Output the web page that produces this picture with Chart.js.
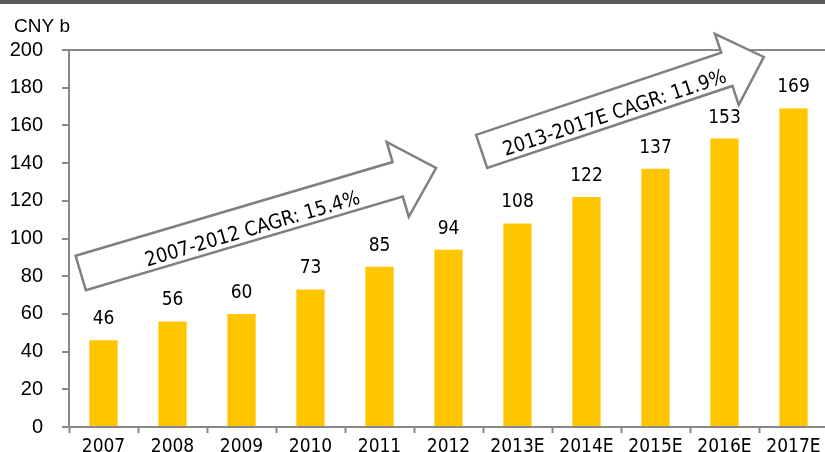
<!DOCTYPE html>
<html>
<head>
<meta charset="utf-8">
<script src="https://cdn.jsdelivr.net/npm/chart.js@4"></script>
<style>
  html, body { margin: 0; padding: 0; overflow: hidden; background: #fff; }
  #topbar { position: absolute; left: 0; top: 0; width: 825px; height: 4px; background: #595959; z-index: 2; }
  #wrap { position: absolute; left: 0; top: 0; width: 828px; height: 452px; }
</style>
</head>
<body>
<div id="topbar"></div>
<div id="wrap"><canvas id="chart" width="828" height="452"></canvas></div>
<script>
const years = ["2007", "2008", "2009", "2010", "2011", "2012", "2013E", "2014E", "2015E", "2016E", "2017E"];
const revenue = [46, 56, 60, 73, 85, 94, 108, 122, 137, 153, 169];
const yTicks = [0, 20, 40, 60, 80, 100, 120, 140, 160, 180, 200];
const unitLabel = "CNY b";
const cagrLabels = ["2007-2012 CAGR: 15.4%", "2013-2017E CAGR: 11.9%"];

const BAR = "#FFC600";
const AXIS = "#888888";
const LABEL_FONT = "'DejaVu Sans Condensed', 'DejaVu Sans', sans-serif";

// arrows placed in data units: [category index, CNY b]
const ARROWS = [
  { from: [-0.33, 81.7], to: [4.82, 137.4], shaft: 36, head: 78, headLen: 40, t: 0.478, off: 12.5 },
  { from: [5.48, 146.2], to: [9.57, 196.3], shaft: 35, head: 75, headLen: 39, t: 0.465, off: 12 },
];

function toPx(chart, pt) {
  const x = chart.scales.x;
  const y = chart.scales.y;
  const p0 = x.getPixelForValue(0);
  const step = x.getPixelForValue(1) - p0;
  return [p0 + pt[0] * step, y.getPixelForValue(pt[1])];
}

const overlay = {
  id: "overlay",
  beforeDatasetsDraw(chart) {
    const ctx = chart.ctx;
    ARROWS.forEach((a, i) => {
      const [tx, ty] = toPx(chart, a.from);
      const [px, py] = toPx(chart, a.to);
      const len = Math.hypot(px - tx, py - ty);
      const ux = (px - tx) / len, uy = (py - ty) / len;
      const nx = -uy, ny = ux;
      const sw = a.shaft / 2, hw = a.head / 2;
      const bx = px - ux * a.headLen, by = py - uy * a.headLen;

      ctx.save();
      ctx.beginPath();
      ctx.moveTo(tx - nx * sw, ty - ny * sw);
      ctx.lineTo(bx - nx * sw, by - ny * sw);
      ctx.lineTo(bx - nx * hw, by - ny * hw);
      ctx.lineTo(px, py);
      ctx.lineTo(bx + nx * hw, by + ny * hw);
      ctx.lineTo(bx + nx * sw, by + ny * sw);
      ctx.lineTo(tx + nx * sw, ty + ny * sw);
      ctx.closePath();
      ctx.fillStyle = "#fff";
      ctx.fill();
      ctx.lineWidth = 2.5;
      ctx.strokeStyle = "#808080";
      ctx.lineJoin = "miter";
      ctx.stroke();

      const cx = tx + ux * len * a.t, cy = ty + uy * len * a.t;
      ctx.translate(cx, cy);
      ctx.rotate(Math.atan2(uy, ux));
      ctx.font = "20px " + LABEL_FONT;
      ctx.fillStyle = "#000";
      ctx.textAlign = "center";
      ctx.textBaseline = "alphabetic";
      ctx.fillText(cagrLabels[i], 0, a.off);
      ctx.restore();
    });
  },
  afterDatasetsDraw(chart) {
    const ctx = chart.ctx;
    const area = chart.chartArea;
    const meta = chart.getDatasetMeta(0);
    ctx.save();
    ctx.fillStyle = "#000";
    ctx.font = "19px " + LABEL_FONT;
    ctx.textAlign = "center";
    ctx.textBaseline = "alphabetic";
    meta.data.forEach((bar, i) => {
      ctx.fillText(String(revenue[i]), bar.x, bar.y - 16);
    });
    ctx.font = "19px 'Liberation Sans', Arial, sans-serif";
    ctx.textAlign = "left";
    ctx.fillText(unitLabel, area.left - 55, area.top - 18);
    ctx.restore();
  },
};

new Chart(document.getElementById("chart"), {
  type: "bar",
  data: {
    labels: years,
    datasets: [
      {
        data: revenue,
        backgroundColor: BAR,
        borderWidth: 0,
        barPercentage: 0.41,
        categoryPercentage: 1,
      },
    ],
  },
  options: {
    responsive: false,
    animation: false,
    layout: { padding: { top: 50, left: 0, right: 0, bottom: 0 } },
    plugins: {
      legend: { display: false },
      tooltip: { enabled: false },
    },
    scales: {
      x: {
        offset: true,
        grid: {
          offset: true,
          drawOnChartArea: false,
          tickLength: 6,
          tickWidth: 2,
          tickColor: AXIS,
        },
        border: { color: AXIS, width: 2 },
        ticks: {
          color: "#000",
          padding: 3,
          maxRotation: 0,
          autoSkip: false,
          font: { family: LABEL_FONT, size: 19 },
        },
        afterFit(scale) { scale.height = 25; },
      },
      y: {
        min: 0,
        max: 200,
        afterBuildTicks(scale) { scale.ticks = yTicks.map((v) => ({ value: v })); },
        grid: {
          color: (c) => (c.tick && c.tick.value === 200 ? AXIS : "rgba(0,0,0,0)"),
          lineWidth: 2,
          tickLength: 7,
          tickWidth: 2,
          tickColor: AXIS,
        },
        border: { color: AXIS, width: 2 },
        ticks: {
          color: "#000",
          padding: 19,
          font: { family: "'Liberation Sans', Arial, sans-serif", size: 20 },
        },
        afterFit(scale) {
          scale.width = 69;
          scale.paddingTop = 12;
          scale.paddingBottom = 12;
        },
      },
    },
  },
  plugins: [overlay],
});
</script>
</body>
</html>
